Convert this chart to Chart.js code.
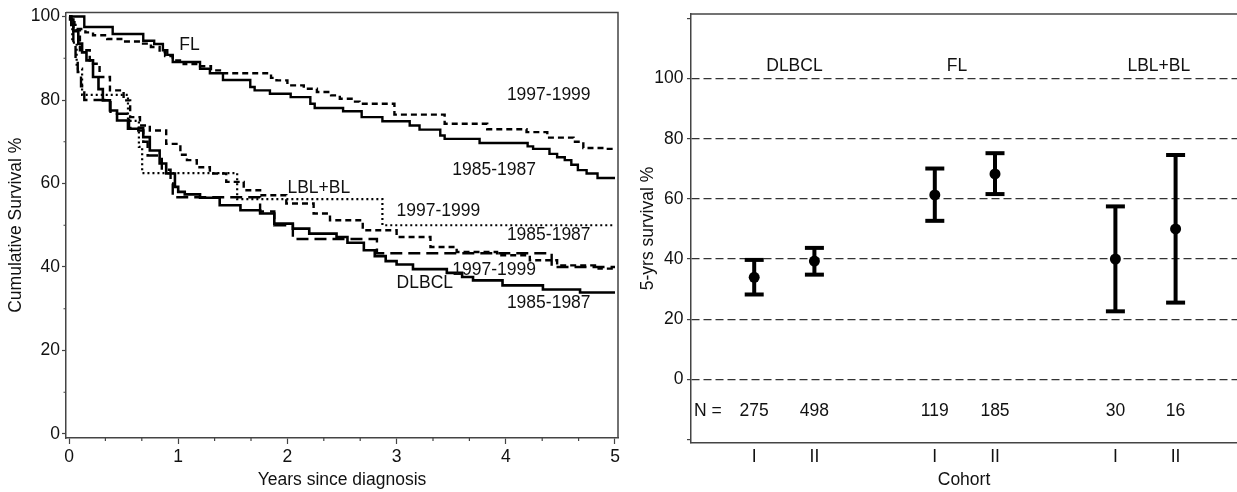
<!DOCTYPE html>
<html>
<head>
<meta charset="utf-8">
<script src="https://cdn.jsdelivr.net/npm/chart.js@4.4.1/dist/chart.umd.min.js"></script>
<style>
  html, body { margin: 0; padding: 0; background: #fff; overflow: hidden; }
  #wrap { position: relative; width: 1237px; height: 492px; }
  #leftBox { position: absolute; left: 0; top: 0; width: 630px; height: 492px; }
  #rightBox { position: absolute; left: 630px; top: 0; width: 607px; height: 492px; }
</style>
</head>
<body>
<div id="wrap">
  <div id="leftBox"><canvas id="km"></canvas></div>
  <div id="rightBox"><canvas id="ci"></canvas></div>
</div>
<script>
// ---- Kaplan-Meier curves: event times (years) and survival (%) after each step ----
const flEarlyT   = [0, 0.14, 0.40, 0.68, 0.78, 0.86, 0.90, 0.95, 1.20, 1.29, 1.41, 1.66, 1.70, 1.84, 2.03, 2.21, 2.25, 2.51, 2.68, 2.87, 3.12, 3.21, 3.40, 3.44, 3.76, 4.20, 4.25, 4.40, 4.47, 4.54, 4.60, 4.66, 4.74, 4.84, 5.0];
const flEarlyS   = [100, 97.5, 95.8, 94.2, 93.4, 91.9, 90.8, 89.1, 87.5, 86.4, 84.8, 83.1, 82.3, 81.5, 80.7, 79.1, 78.1, 77.3, 75.9, 74.9, 73.9, 72.9, 71.5, 70.7, 69.7, 68.9, 68.3, 67.1, 66.3, 65.6, 64.5, 63.2, 62.4, 61.3, 61.3];

const flLateT    = [0, 0.02, 0.05, 0.08, 0.15, 0.22, 0.35, 0.50, 0.65, 0.75, 0.83, 0.88, 0.95, 1.05, 1.20, 1.30, 1.40, 1.85, 1.90, 2.00, 2.15, 2.27, 2.40, 2.48, 2.60, 2.66, 2.98, 3.44, 3.83, 4.19, 4.38, 4.62, 4.71, 4.90, 5.0];
const flLateS    = [100, 99.0, 98.0, 97.0, 96.2, 95.5, 94.6, 94.0, 93.5, 92.7, 91.5, 90.5, 89.5, 88.6, 88.1, 87.1, 86.4, 85.3, 84.7, 83.5, 82.7, 81.9, 81.1, 80.3, 79.6, 79.1, 76.5, 74.3, 73.0, 72.3, 71.0, 70.0, 68.5, 68.3, 68.3];

const dlEarlyT   = [0, 0.01, 0.04, 0.085, 0.12, 0.16, 0.22, 0.27, 0.31, 0.375, 0.44, 0.54, 0.635, 0.68, 0.74, 0.83, 0.89, 0.97, 1.00, 1.06, 1.20, 1.38, 1.57, 1.75, 1.88, 2.05, 2.20, 2.45, 2.55, 2.70, 2.80, 2.90, 3.00, 3.15, 3.46, 3.60, 3.70, 3.97, 4.34, 4.68, 5.0];
const dlEarlyS   = [100, 99.3, 96.5, 93.5, 91.4, 89.5, 85.5, 82.6, 79.9, 77.5, 75.1, 73.1, 72.7, 71.1, 67.9, 64.8, 62.4, 59.2, 58.0, 57.4, 56.6, 54.8, 53.6, 52.8, 50.4, 49.2, 48.0, 47.2, 45.8, 44.0, 42.6, 41.4, 40.6, 39.5, 38.6, 37.6, 36.8, 35.6, 34.6, 33.9, 33.9];

const dlLateT    = [0, 0.02, 0.04, 0.10, 0.19, 0.28, 0.375, 0.50, 0.56, 0.65, 0.74, 0.89, 1.02, 1.08, 1.17, 1.29, 1.44, 1.60, 1.75, 1.99, 2.24, 2.39, 2.69, 3.00, 3.31, 3.55, 3.92, 4.22, 4.47, 4.85, 5.0];
const dlLateS    = [100, 98.5, 96.7, 91.9, 88.7, 85.5, 82.3, 79.9, 75.9, 73.9, 72.7, 69.5, 66.9, 65.6, 63.9, 62.4, 60.4, 58.4, 57.2, 55.2, 52.8, 51.2, 48.8, 47.2, 44.8, 43.6, 42.8, 41.6, 40.4, 39.6, 39.3];

const lbEarlyT   = [0, 0.02, 0.04, 0.06, 0.08, 0.11, 0.14, 0.38, 0.55, 0.68, 0.72, 0.85, 0.93, 0.95, 1.75, 1.88, 2.05, 2.82, 4.42, 5.0];
const lbEarlyS   = [100, 96.7, 93.3, 90.0, 86.7, 83.3, 80.0, 76.7, 73.3, 70.0, 66.7, 63.3, 60.0, 56.7, 53.3, 50.0, 46.7, 43.3, 40.0, 40.0];

const lbLateT    = [0, 0.03, 0.07, 0.12, 0.54, 0.64, 0.67, 1.54, 2.87, 5.0];
const lbLateS    = [100, 93.75, 87.5, 81.25, 75.0, 68.75, 62.5, 56.25, 50.0, 50.0];

const yearTicks     = [0, 1, 2, 3, 4, 5];
const survivalTicks = [0, 20, 40, 60, 80, 100];

// ---- 5-year survival with 95% CI per cohort ----
const cohortPos      = [1, 2, 4, 5, 7, 8];
const cohortLabels   = ['I', 'II', 'I', 'II', 'I', 'II'];
const fiveYrSurv     = [33.9, 39.3, 61.3, 68.3, 40.0, 50.0];
const fiveYrLower    = [28.2, 34.8, 52.7, 61.6, 22.6, 25.5];
const fiveYrUpper    = [39.7, 43.7, 70.1, 75.2, 57.5, 74.6];
const cohortN        = ['275', '498', '119', '185', '30', '16'];
const groupNames     = ['DLBCL', 'FL', 'LBL+BL'];
const ciTicks        = [-20, 0, 20, 40, 60, 80, 100, 120];

const FONT = "'Liberation Sans', Arial, Helvetica, sans-serif";
const INK = '#111';
const AXIS = '#444';
const FS = 17.5;

Chart.defaults.font.family = FONT;
Chart.defaults.font.size = FS;
Chart.defaults.color = INK;
Chart.defaults.animation = false;

const pairs = (xs, ys) => xs.map((x, i) => ({ x: x, y: ys[i] }));

function curve(xs, ys, dash, width) {
  return {
    data: pairs(xs, ys),
    stepped: 'before',
    borderColor: '#000',
    borderWidth: width,
    borderDash: dash,
    pointRadius: 0,
    fill: false,
    tension: 0
  };
}

// Curve labels, placed in data units (years, %)
const kmLabels = [
  { text: 'FL',        x: 1.01, y: 93.1 },
  { text: '1997-1999', x: 4.01, y: 81.1 },
  { text: '1985-1987', x: 3.51, y: 63.2 },
  { text: 'LBL+BL',    x: 2.00, y: 58.9 },
  { text: '1997-1999', x: 3.00, y: 53.3 },
  { text: '1985-1987', x: 4.01, y: 47.6 },
  { text: '1997-1999', x: 3.51, y: 39.2 },
  { text: 'DLBCL',     x: 3.00, y: 36.1 },
  { text: '1985-1987', x: 4.01, y: 31.3 }
];

const kmDecor = {
  id: 'kmDecor',
  afterDatasetsDraw(chart) {
    const { ctx, chartArea: a, scales: { x, y } } = chart;
    ctx.save();
    // frame: top and right edges
    ctx.strokeStyle = AXIS;
    ctx.lineWidth = 1.5;
    ctx.beginPath();
    ctx.moveTo(a.left, a.top);
    ctx.lineTo(a.right, a.top);
    ctx.lineTo(a.right, a.bottom);
    ctx.stroke();
    // minor ticks
    ctx.lineWidth = 1.2;
    ctx.beginPath();
    for (let k = 0; k <= 15; k++) {
      if (k % 3 === 0) continue;
      const px = x.getPixelForValue(k / 3);
      ctx.moveTo(px, a.bottom);
      ctx.lineTo(px, a.bottom + 3);
    }
    for (let v = 10; v < 100; v += 20) {
      const py = y.getPixelForValue(v);
      ctx.moveTo(a.left, py);
      ctx.lineTo(a.left - 2.5, py);
    }
    ctx.stroke();
    // curve labels
    ctx.fillStyle = INK;
    ctx.font = FS + 'px ' + FONT;
    ctx.textAlign = 'left';
    ctx.textBaseline = 'middle';
    kmLabels.forEach(l => ctx.fillText(l.text, x.getPixelForValue(l.x), y.getPixelForValue(l.y)));
    ctx.restore();
  }
};

new Chart(document.getElementById('km'), {
  type: 'line',
  data: {
    datasets: [
      curve(flEarlyT, flEarlyS, [], 2.4),
      curve(flLateT, flLateS, [6, 4], 2.4),
      curve(dlEarlyT, dlEarlyS, [], 2.6),
      curve(dlLateT, dlLateS, [6, 4], 2.4),
      curve(lbEarlyT, lbEarlyS, [12, 6], 2.4),
      curve(lbLateT, lbLateS, [2, 3], 2.2)
    ]
  },
  options: {
    responsive: true,
    maintainAspectRatio: false,
    layout: { autoPadding: false, padding: { left: 0, top: 12, right: 12, bottom: 0 } },
    plugins: { legend: { display: false }, tooltip: { enabled: false } },
    scales: {
      x: {
        type: 'linear',
        min: -0.0275, max: 5.0275,
        afterBuildTicks: s => { s.ticks = yearTicks.map(v => ({ value: v })); },
        afterFit: s => { s.height = 54; },
        ticks: { padding: 2.5, maxRotation: 0, autoSkip: false, callback: v => String(v) },
        grid: { drawOnChartArea: false, drawTicks: true, tickLength: 6, tickColor: AXIS, tickWidth: 1.2 },
        border: { color: AXIS, width: 1.5 },
        title: { display: true, text: 'Years since diagnosis', padding: { top: 0, bottom: 1.5 } }
      },
      y: {
        type: 'linear',
        min: -0.96, max: 100.96,
        afterBuildTicks: s => { s.ticks = survivalTicks.map(v => ({ value: v })); },
        afterFit: s => { s.width = 66; },
        ticks: { padding: 2, callback: v => String(v) },
        grid: { drawOnChartArea: false, drawTicks: true, tickLength: 4, tickColor: AXIS, tickWidth: 1.2 },
        border: { color: AXIS, width: 1.5 },
        title: { display: true, text: 'Cumulative Survival %', padding: { top: 6, bottom: 0 } }
      }
    }
  },
  plugins: [kmDecor]
});

// ---- Right panel ----
const ciDecor = {
  id: 'ciDecor',
  afterDatasetsDraw(chart) {
    const { ctx, chartArea: a, scales: { x, y } } = chart;
    ctx.save();
    ctx.strokeStyle = AXIS;
    ctx.lineWidth = 1.5;
    ctx.beginPath();
    ctx.moveTo(a.left, a.top);
    ctx.lineTo(a.right, a.top);
    ctx.stroke();
    ctx.fillStyle = INK;
    ctx.font = FS + 'px ' + FONT;
    ctx.textBaseline = 'middle';
    ctx.textAlign = 'left';
    const nY = y.getPixelForValue(-10.6);
    ctx.fillText('N =', x.getPixelForValue(0.0), nY);
    const groupY = y.getPixelForValue(104.2);
    const groupX = [1.2, 4.2, 7.2];
    groupNames.forEach((g, i) => ctx.fillText(g, x.getPixelForValue(groupX[i]), groupY));
    ctx.textAlign = 'center';
    cohortN.forEach((n, i) => ctx.fillText(n, x.getPixelForValue(cohortPos[i]), nY));
    ctx.restore();
  }
};

const whiskerData = [];
cohortPos.forEach((p, i) => {
  whiskerData.push({ x: p, y: fiveYrLower[i] }, { x: p, y: fiveYrUpper[i] }, { x: p, y: null });
});
const capData = [];
cohortPos.forEach((p, i) => {
  capData.push({ x: p, y: fiveYrLower[i] }, { x: p, y: fiveYrUpper[i] });
});

new Chart(document.getElementById('ci'), {
  type: 'scatter',
  data: {
    datasets: [
      {
        data: whiskerData, showLine: true, spanGaps: false,
        borderColor: '#000', borderWidth: 4, pointRadius: 0
      },
      {
        data: capData, pointStyle: 'line', pointRadius: 9.5,
        pointBorderWidth: 4, pointBorderColor: '#000', borderColor: '#000'
      },
      {
        data: pairs(cohortPos, fiveYrSurv), pointStyle: 'circle', pointRadius: 5.5,
        pointBackgroundColor: '#000', pointBorderColor: '#000', pointBorderWidth: 0
      }
    ]
  },
  options: {
    responsive: true,
    maintainAspectRatio: false,
    layout: { autoPadding: false, padding: { left: 0, top: 13, right: 0, bottom: 0 } },
    plugins: { legend: { display: false }, tooltip: { enabled: false } },
    scales: {
      x: {
        type: 'linear',
        min: -0.05, max: 9.02,
        afterBuildTicks: s => { s.ticks = cohortPos.map(v => ({ value: v })); },
        afterFit: s => { s.height = 49; },
        ticks: { padding: 4, maxRotation: 0, autoSkip: false,
                 callback: v => cohortLabels[cohortPos.indexOf(v)] },
        grid: { drawOnChartArea: false, drawTicks: false },
        border: { color: AXIS, width: 1.5 },
        title: { display: true, text: 'Cohort', padding: { top: 0, bottom: 1.5 } }
      },
      y: {
        type: 'linear',
        min: -21.2, max: 121.5,
        afterBuildTicks: s => { s.ticks = ciTicks.map(v => ({ value: v })); },
        afterFit: s => { s.width = 61; },
        ticks: { padding: 3.5, callback: v => (v >= 0 && v <= 100 ? String(v) : '') },
        grid: {
          drawOnChartArea: true, drawTicks: true, tickLength: 4,
          color: c => (c.tick && c.tick.value >= 0 && c.tick.value <= 100 ? '#333' : 'rgba(0,0,0,0)'),
          lineWidth: 1.2, tickColor: AXIS, tickWidth: 1.2, tickBorderDash: []
        },
        border: { color: AXIS, width: 1.5, dash: [8, 4] },
        title: { display: true, text: '5-yrs survival %', padding: { top: 7.5, bottom: 0 } }
      }
    }
  },
  plugins: [ciDecor]
});
</script>
</body>
</html>
